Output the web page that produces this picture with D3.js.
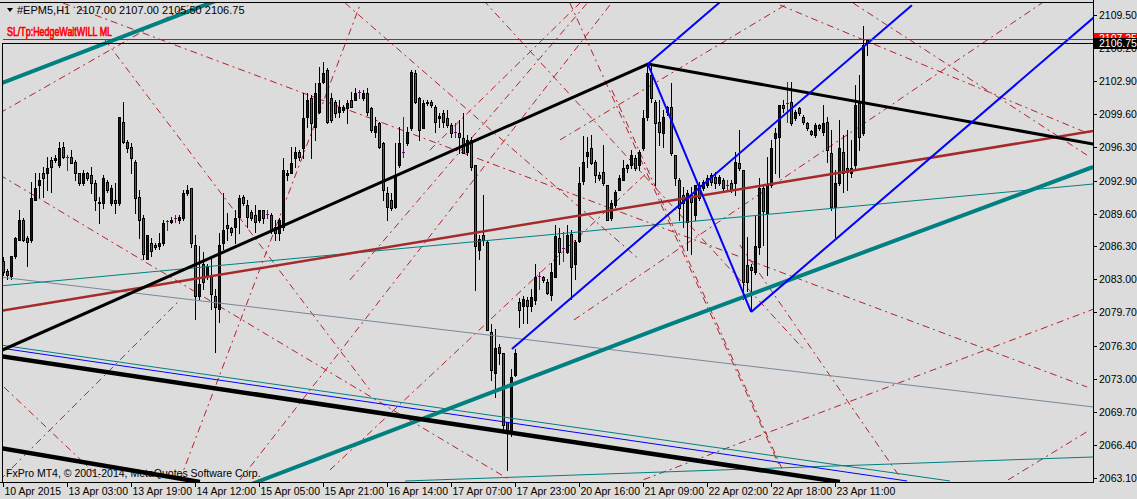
<!DOCTYPE html>
<html>
<head>
<meta charset="utf-8">
<script src="https://cdn.jsdelivr.net/npm/d3@7"></script>
<style>
  body { margin: 0; background: #dcdcdc; }
  svg { display: block; }
  text { font-family: "Liberation Sans", Arial, sans-serif; }
</style>
</head>
<body>
<script>
var w = 1137, h = 499;

// --- data (H1 bars, EPM5) ---
var opens = [2084.8,2083.8,2083.3,2085.3,2087.0,2089.0,2087.2,2087.0,2091.0,2092.5,
  2093.7,2093.7,2095.0,2095.0,2094.5,2096.3,2095.3,2095.3,2094.8,2093.7,
  2092.7,2093.7,2093.5,2092.7,2090.8,2090.7,2092.8,2090.7,2091.0,2090.7,
  2098.8,2096.8,2096.3,2094.8,2091.3,2089.2,2085.0,2086.7,2086.5,2086.3,
  2086.7,2088.9,2088.8,2089.2,2089.0,2089.2,2091.7,2092.2,2086.5,2081.3,
  2084.5,2083.3,2083.3,2081.3,2080.0,2086.7,2088.5,2088.2,2088.3,2089.3,
  2091.3,2090.5,2089.8,2089.5,2089.0,2090.0,2089.6,2089.5,2088.3,2087.7,
  2088.3,2093.5,2093.7,2095.2,2095.8,2096.2,2099.3,2101.2,2098.3,2099.8,
  2102.8,2104.0,2101.2,2100.8,2099.8,2100.0,2100.2,2101.0,2101.0,2101.8,
  2101.2,2101.7,2100.2,2097.8,2098.7,2096.7,2091.7,2091.0,2090.3,2094.5,
  2095.8,2096.7,2098.2,2103.7,2101.2,2098.2,2100.8,2100.8,2100.3,2099.2,
  2099.7,2099.2,2098.5,2097.8,2097.7,2097.2,2095.8,2097.0,2094.5,2085.9,
  2087.5,2086.8,2077.7,2073.6,2076.2,2075.6,2068.7,2067.9,2073.4,2080.7,
  2080.3,2080.9,2080.3,2080.9,2083.3,2083.2,2082.7,2081.4,2083.2,2087.2,
  2086.1,2085.7,2087.6,2084.5,2086.9,2092.9,2095.4,2096.2,2094.8,2093.5,
  2093.8,2092.5,2089.2,2090.5,2092.0,2093.0,2094.5,2094.5,2095.2,2094.5,
  2096.2,2099.3,2103.5,2100.8,2098.8,2097.7,2100.3,2100.3,2095.5,2093.0,
  2091.5,2088.8,2091.5,2089.5,2092.5,2092.2,2092.5,2093.5,2093.3,2092.7,
  2093.0,2092.5,2092.7,2092.7,2094.7,2094.0,2084.4,2084.2,2083.7,2086.2,
  2092.2,2089.7,2092.5,2097.2,2097.3,2100.5,2100.7,2100.8,2099.2,2100.2,
  2099.3,2098.7,2097.9,2097.5,2098.5,2097.8,2098.8,2095.7,2090.3,2092.7,
  2095.8,2094.2,2093.7,2094.5,2100.7,2097.7,2107.0];
var highs = [2085.2,2084.0,2085.3,2087.3,2090.0,2089.2,2087.4,2092.8,2093.7,2093.7,
  2094.3,2095.3,2095.3,2095.5,2096.8,2096.8,2095.5,2096.0,2095.0,2093.7,
  2094.0,2093.8,2094.3,2093.0,2091.3,2093.5,2093.0,2092.5,2092.7,2099.3,
  2100.8,2097.0,2096.7,2095.0,2092.0,2089.5,2087.5,2087.2,2086.7,2087.7,
  2089.0,2089.0,2089.3,2089.5,2089.5,2092.0,2092.5,2092.2,2087.5,2086.3,
  2085.7,2084.5,2085.0,2082.0,2087.7,2091.7,2089.7,2088.3,2090.0,2091.5,
  2091.5,2091.0,2090.0,2090.5,2090.0,2090.0,2090.0,2089.7,2089.0,2089.2,
  2095.2,2094.0,2096.3,2096.3,2096.0,2101.7,2101.7,2101.5,2102.7,2104.3,
  2104.8,2104.2,2101.7,2101.0,2101.0,2100.5,2101.0,2101.8,2102.2,2102.0,
  2102.0,2102.2,2100.3,2099.3,2098.8,2096.8,2092.3,2091.7,2096.7,2098.3,
  2099.3,2098.3,2104.0,2104.0,2101.3,2101.0,2101.0,2101.0,2100.5,2099.7,
  2100.0,2100.0,2098.7,2098.7,2099.0,2099.7,2097.5,2097.3,2094.5,2087.5,
  2091.5,2087.0,2078.5,2078.0,2076.5,2075.6,2068.7,2074.0,2076.0,2081.1,
  2081.3,2081.2,2082.0,2084.5,2083.7,2083.3,2083.0,2084.6,2088.5,2088.2,
  2087.8,2088.5,2088.0,2087.0,2094.3,2097.4,2097.3,2097.5,2095.0,2093.8,
  2096.5,2092.5,2091.0,2092.0,2093.5,2095.0,2094.6,2096.0,2095.5,2096.0,
  2100.0,2104.7,2104.7,2101.0,2101.0,2100.0,2100.4,2102.7,2095.5,2093.2,
  2092.3,2092.0,2092.3,2092.5,2092.8,2093.0,2093.5,2093.7,2093.8,2093.5,
  2093.2,2093.0,2093.0,2095.8,2098.0,2094.0,2087.3,2084.5,2089.5,2093.2,
  2092.5,2095.3,2097.0,2098.2,2100.5,2101.0,2102.8,2102.8,2100.0,2100.3,
  2099.5,2098.8,2098.0,2098.7,2098.6,2100.5,2099.3,2098.0,2094.0,2099.0,
  2097.5,2098.0,2097.0,2102.5,2103.5,2108.4,2107.0];
var lows = [2083.4,2083.0,2083.0,2085.1,2087.0,2086.9,2084.3,2086.8,2091.0,2091.3,
  2091.3,2092.0,2091.8,2094.8,2094.3,2095.2,2094.0,2094.7,2093.0,2092.5,
  2092.5,2093.0,2091.7,2090.0,2088.7,2090.2,2091.8,2090.5,2089.7,2090.5,
  2096.7,2095.8,2093.7,2089.7,2087.2,2085.0,2085.0,2085.3,2086.0,2086.0,
  2086.5,2088.0,2088.7,2088.8,2088.7,2089.0,2091.5,2086.2,2079.0,2081.0,
  2082.0,2083.0,2080.0,2075.7,2078.7,2086.0,2087.0,2087.5,2086.7,2087.7,
  2090.5,2088.3,2089.0,2087.8,2088.8,2088.7,2089.2,2087.7,2087.0,2087.0,
  2088.0,2093.0,2093.7,2094.3,2095.0,2095.2,2098.3,2095.2,2097.0,2099.7,
  2102.7,2098.7,2098.8,2099.3,2099.3,2099.8,2098.7,2100.3,2101.0,2101.2,
  2101.0,2099.5,2097.8,2097.3,2096.2,2091.0,2089.0,2090.0,2090.2,2094.3,
  2095.3,2096.5,2098.0,2100.7,2097.0,2098.2,2100.5,2100.3,2097.8,2098.3,
  2098.3,2098.3,2097.3,2097.3,2095.7,2095.7,2095.5,2094.0,2081.9,2085.0,
  2086.5,2077.9,2072.9,2071.2,2074.5,2067.8,2063.9,2067.3,2073.3,2078.2,
  2078.6,2078.6,2079.8,2080.5,2082.0,2082.7,2081.5,2080.9,2083.2,2084.5,
  2084.8,2085.6,2081.0,2083.0,2086.8,2092.6,2094.3,2094.6,2092.8,2093.0,
  2092.5,2089.0,2089.0,2090.3,2092.0,2093.0,2093.8,2094.2,2094.0,2094.0,
  2096.0,2099.0,2100.8,2092.5,2096.5,2096.3,2099.5,2095.5,2092.5,2089.0,
  2088.3,2085.9,2085.5,2089.0,2091.0,2092.0,2092.3,2092.5,2092.2,2092.5,
  2092.0,2092.0,2091.8,2091.5,2094.0,2081.0,2081.8,2079.9,2083.5,2085.5,
  2086.5,2083.4,2092.3,2093.7,2093.3,2099.8,2098.8,2098.5,2099.0,2099.5,
  2098.6,2098.0,2097.5,2097.3,2098.0,2097.5,2094.8,2090.0,2087.3,2092.5,
  2091.8,2092.0,2093.3,2094.0,2096.0,2097.5,2105.5];
var closes = [2083.7,2083.4,2085.3,2087.2,2089.0,2087.0,2086.8,2091.2,2092.2,2093.0,
  2093.2,2094.2,2094.3,2095.2,2096.2,2095.3,2095.3,2094.7,2093.7,2092.7,
  2093.7,2093.2,2092.7,2091.0,2090.7,2093.2,2092.0,2092.2,2090.7,2099.3,
  2096.8,2096.2,2095.2,2091.2,2089.0,2085.5,2087.5,2085.8,2086.2,2086.7,
  2088.7,2088.9,2089.0,2089.2,2089.3,2091.7,2092.0,2086.7,2081.3,2082.5,
  2082.7,2084.3,2081.5,2080.2,2086.5,2088.0,2088.2,2087.8,2089.2,2091.2,
  2090.7,2089.3,2089.2,2088.8,2090.0,2089.2,2089.6,2088.0,2087.7,2089.0,
  2094.0,2093.7,2094.7,2095.8,2095.3,2099.2,2101.0,2098.7,2101.7,2102.7,
  2103.7,2098.8,2099.0,2099.7,2100.3,2100.3,2100.7,2100.3,2101.7,2101.8,
  2101.7,2099.8,2098.0,2098.4,2096.3,2092.0,2090.3,2090.2,2093.3,2096.7,
  2095.8,2097.8,2103.8,2100.8,2098.0,2100.7,2100.7,2100.5,2098.8,2099.4,
  2098.8,2098.5,2097.7,2097.8,2097.3,2095.7,2097.0,2094.3,2086.3,2087.1,
  2087.0,2077.9,2073.9,2076.1,2075.6,2068.4,2067.9,2073.2,2075.6,2079.9,
  2081.0,2080.3,2081.2,2083.2,2083.3,2082.9,2081.6,2083.7,2087.4,2085.7,
  2086.1,2087.5,2084.2,2086.8,2092.7,2094.8,2095.8,2094.7,2093.5,2093.2,
  2092.7,2089.0,2090.7,2091.8,2093.2,2094.2,2094.2,2095.5,2094.2,2095.8,
  2099.2,2103.7,2101.2,2098.7,2097.8,2099.3,2099.8,2095.7,2093.2,2090.2,
  2090.7,2091.7,2090.8,2092.5,2091.2,2092.8,2093.2,2092.8,2092.7,2093.3,
  2092.2,2092.5,2092.0,2094.8,2094.2,2082.7,2082.7,2083.9,2086.4,2092.2,
  2089.9,2092.5,2096.2,2097.7,2100.5,2100.2,2100.7,2098.7,2099.8,2099.7,
  2098.8,2098.2,2097.6,2098.5,2098.2,2098.7,2096.0,2090.3,2092.7,2096.2,
  2093.7,2093.8,2094.2,2100.5,2097.3,2106.5,2106.75];

var timeTickBars = [0,16,32,48,64,80,96,112,128,144,160,176,192,208];
var timeTickLabels = ["10 Apr 2015","13 Apr 03:00","13 Apr 19:00","14 Apr 12:00","15 Apr 05:00",
  "15 Apr 21:00","16 Apr 14:00","17 Apr 07:00","17 Apr 23:00","20 Apr 16:00","21 Apr 09:00",
  "22 Apr 02:00","22 Apr 18:00","23 Apr 11:00"];
var priceTicks = [2109.50,2106.20,2102.90,2099.60,2096.30,2092.90,2089.60,2086.30,
  2083.00,2079.70,2076.30,2073.00,2069.70,2066.40,2063.10];
var bid = 2106.75, ask = 2107.25;
var header = ["#EPM5,H1", "2107.00", "2107.00", "2105.50", "2106.75"];

// trend objects, [bar, price] end points
var tealChannelTop = [[-0.4, 2102.7], [53.4, 2111.0]];
var tealChannelLow = [[59, 2062.0], [166.1, 2078.42], [272.4, 2094.28]];
var tealThin = [[-0.9, 2082.34], [272.4, 2092.57]];
var tealThinLow = [[-0.9, 2076.42], [236.6, 2062.77]];
var tealThinBottom = [[100.4, 2062.77], [272.4, 2065.18]];
var brownLine = [[-0.9, 2079.83], [272.4, 2097.89]];
var slateLine = [[-0.9, 2083.24], [272.4, 2070.20]];
var blackUp = [[-0.9, 2075.8], [161.1, 2104.61], [272.4, 2096.59]];
var blackLow = [[-0.9, 2075.31], [209.1, 2062.67]];
var blackLow2 = [[-0.9, 2066.08], [49.1, 2062.67]];
var blueThin = [[-0.9, 2076.12], [225.9, 2062.77]];
var channelA = [[127.1, 2076.02], [227.1, 2110.52]];
var channelB = [[161.1, 2104.61], [261.1, 2139.1]];
var channelC = [[186.9, 2079.73], [286.9, 2114.23]];
var channelZig = [[161.1, 2104.61], [186.9, 2079.73]];

var dashLines = [
  [[14.9, 2110.73], [270.9, 2072.20]],
  [[-0.9, 2099.70], [48.6, 2111.04]],
  [[85.4, 2110.73], [159.1, 2084.95]],
  [[141.6, 2110.73], [194.1, 2064.18]],
  [[152.1, 2102.00], [195.1, 2063.57]],
  [[194.1, 2110.53], [270.9, 2097.69]],
  [[212.4, 2110.73], [271.6, 2095.28]],
  [[251.1, 2062.87], [271.6, 2067.89]],
  [[142.6, 2078.93], [259.6, 2110.73]],
  [[139.1, 2096.99], [195.4, 2110.53]],
  [[184.1, 2086.45], [224.1, 2063.17]],
  [[25.4, 2107.02], [91.6, 2071.90]],
  [[44.1, 2062.87], [89.6, 2111.04]],
  [[59.1, 2062.87], [152.6, 2111.04]],
  [[-0.9, 2093.47], [126.6, 2062.87]],
  [[81.6, 2063.87], [161.6, 2093.98]],
  [[106.6, 2095.98], [144.9, 2111.04]],
  [[86.6, 2082.94], [146.6, 2111.04]],
  [[0.1, 2072.20], [24.6, 2062.87]],
  [[-0.9, 2062.87], [44.1, 2080.93]],
  [[160.0, 2062.9], [272.4, 2080.0]],
  [[120.0, 2111.0], [200.0, 2076.0]]
];

var statusLabel = "SL/Tp:HedgeWaitWILL ML";
var copyright = "FxPro MT4, \u00a9 2001-2014, MetaQuotes Software Corp.";

// --- layout ---
var plotLeft = 2, plotRight = 1093, plotTop = 2, plotBottom = 482;

var x = d3.scaleLinear().domain([0, 216]).range([3.5, 867.5]);
var y = d3.scaleLinear().domain([2063.1, 2109.5]).range([477.7, 15.3]);

var svg = d3.select("body").append("svg")
  .attr("width", w)
  .attr("height", h);

svg.append("rect").attr("width", w).attr("height", h).attr("fill", "#dcdcdc");

svg.append("clipPath").attr("id", "plot")
  .append("rect")
  .attr("x", plotLeft + 1).attr("y", plotTop + 1)
  .attr("width", plotRight - plotLeft - 1).attr("height", plotBottom - plotTop - 1);

var plot = svg.append("g").attr("clip-path", "url(#plot)");

var line = d3.line().x(function(d){ return x(d[0]); }).y(function(d){ return y(d[1]); });

// dashed red objects
plot.selectAll(".dash").data(dashLines).enter().append("path")
  .attr("d", line)
  .attr("fill", "none")
  .attr("stroke", "#b3222c")
  .attr("stroke-width", 1)
  .attr("stroke-dasharray", "7,4,2,4");

// candles
var bars = d3.range(opens.length).map(function(i){
  return { i: i, o: opens[i], h: highs[i], l: lows[i], c: closes[i] };
});

var candle = plot.selectAll(".bar").data(bars).enter().append("g");

candle.append("line")
  .attr("x1", function(d){ return Math.floor(x(d.i)) + 0.5; })
  .attr("x2", function(d){ return Math.floor(x(d.i)) + 0.5; })
  .attr("y1", function(d){ return Math.round(y(d.h)); })
  .attr("y2", function(d){ return Math.round(y(d.l)) + 1; })
  .attr("stroke", function(d){ return d.o === d.c ? "#800080" : "#000"; })
  .attr("stroke-width", 1);

candle.filter(function(d){ return d.o !== d.c; }).append("rect")
  .attr("x", function(d){ return Math.floor(x(d.i)) - 1; })
  .attr("y", function(d){ return Math.round(y(Math.max(d.o, d.c))); })
  .attr("width", 3)
  .attr("height", function(d){ return Math.max(2, Math.round(y(Math.min(d.o, d.c))) - Math.round(y(Math.max(d.o, d.c))) + 1); })
  .attr("fill", "#000");

candle.filter(function(d){ return d.o !== d.c; }).append("rect")
  .attr("x", function(d){ return Math.floor(x(d.i)); })
  .attr("y", function(d){ return Math.round(y(Math.max(d.o, d.c))) + 1; })
  .attr("width", 1)
  .attr("height", function(d){ return Math.max(0, Math.round(y(Math.min(d.o, d.c))) - Math.round(y(Math.max(d.o, d.c))) - 1); })
  .attr("fill", function(d){ return d.c > d.o ? "#0000c8" : "#d01c3c"; });

candle.filter(function(d){ return d.o === d.c; }).append("line")
  .attr("x1", function(d){ return Math.floor(x(d.i)) - 1; })
  .attr("x2", function(d){ return Math.floor(x(d.i)) + 2; })
  .attr("y1", function(d){ return Math.round(y(d.o)) + 0.5; })
  .attr("y2", function(d){ return Math.round(y(d.o)) + 0.5; })
  .attr("stroke", "#800080");

// trend lines
function draw(pts, color, width) {
  plot.append("path")
    .attr("d", line(pts))
    .attr("fill", "none")
    .attr("stroke", color)
    .attr("stroke-width", width)
    .attr("stroke-linejoin", "miter");
}

draw(slateLine, "#778899", 1);
draw(tealThin, "#008080", 1);
draw(tealThinLow, "#008080", 1);
draw(tealThinBottom, "#008080", 1);
draw(blueThin, "#0000ff", 1);
draw(brownLine, "#a52a2a", 2.5);
draw(tealChannelTop, "#008080", 4);
draw(tealChannelLow, "#008080", 4);
draw(blackLow, "#000", 4.5);
draw(blackLow2, "#000", 4.5);
draw(blackUp, "#000", 3);
draw(channelA, "#0000ff", 2);
draw(channelB, "#0000ff", 2);
draw(channelC, "#0000ff", 2);
draw(channelZig, "#0000ff", 2);

// bid / ask lines
plot.append("line")
  .attr("x1", 0).attr("x2", plotRight)
  .attr("y1", Math.round(y(ask)) + 1.5).attr("y2", Math.round(y(ask)) + 1.5)
  .attr("stroke", "#ff0000");
plot.append("line")
  .attr("x1", 0).attr("x2", plotRight)
  .attr("y1", Math.round(y(bid)) + 0.5).attr("y2", Math.round(y(bid)) + 0.5)
  .attr("stroke", "#000");

// frame
svg.append("line").attr("x1", 0).attr("x2", plotRight + 0.5)
  .attr("y1", plotTop + 0.5).attr("y2", plotTop + 0.5).attr("stroke", "#000");
svg.append("line").attr("x1", plotLeft + 0.5).attr("x2", plotLeft + 0.5)
  .attr("y1", Math.round(y(bid))).attr("y2", plotBottom + 0.5).attr("stroke", "#000");
svg.append("line").attr("x1", plotRight + 0.5).attr("x2", plotRight + 0.5)
  .attr("y1", 0).attr("y2", plotBottom + 1).attr("stroke", "#000");
svg.append("line").attr("x1", 0).attr("x2", plotRight + 1)
  .attr("y1", plotBottom + 0.5).attr("y2", plotBottom + 0.5).attr("stroke", "#000");

// price axis
var pAxis = svg.append("g");
priceTicks.forEach(function(p){
  var yy = Math.round(y(p)) + 0.5;
  pAxis.append("line").attr("x1", plotRight).attr("x2", plotRight + 4)
    .attr("y1", yy).attr("y2", yy).attr("stroke", "#000");
  pAxis.append("text").attr("x", plotRight + 6).attr("y", yy).attr("dy", "0.36em")
    .attr("font-size", "10.5px").attr("fill", "#000").text(p.toFixed(2));
});

function priceBox(p, bg) {
  var yy = Math.round(y(p));
  pAxis.append("rect").attr("x", plotRight + 1).attr("y", yy - 5)
    .attr("width", w - plotRight - 1).attr("height", 11).attr("fill", bg);
  pAxis.append("text").attr("x", plotRight + 6).attr("y", yy).attr("dy", "0.36em")
    .attr("font-size", "10.5px").attr("fill", "#fff").text(p.toFixed(2));
}
priceBox(ask, "#ff0000");
priceBox(bid, "#000");

// time axis
var tAxis = svg.append("g");
timeTickBars.forEach(function(b, k){
  var xx = Math.floor(x(b)) + 0.5;
  tAxis.append("line").attr("x1", xx).attr("x2", xx)
    .attr("y1", plotBottom).attr("y2", plotBottom + 5).attr("stroke", "#000");
  tAxis.append("text").attr("x", xx + 1).attr("y", 495)
    .attr("font-size", "10.5px").attr("fill", "#000").text(timeTickLabels[k]);
});

// header
svg.append("path").attr("d", "M7,8 L13,8 L10,12 Z").attr("fill", "#000");
svg.append("text").attr("x", 17).attr("y", 14).attr("font-size", "11px").attr("fill", "#000")
  .attr("xml:space", "preserve")
  .text(header[0] + "  " + header.slice(1).join(" "));

svg.append("text").attr("x", 7).attr("y", 36).attr("font-size", "13px")
  .attr("textLength", 105).attr("lengthAdjust", "spacingAndGlyphs")
  .attr("fill", "#ff0000").attr("stroke", "#ff0000").attr("stroke-width", 0.7)
  .text(statusLabel);

svg.append("text").attr("x", 6).attr("y", 477).attr("font-size", "10.5px").attr("fill", "#000")
  .text(copyright);
</script>
</body>
</html>
